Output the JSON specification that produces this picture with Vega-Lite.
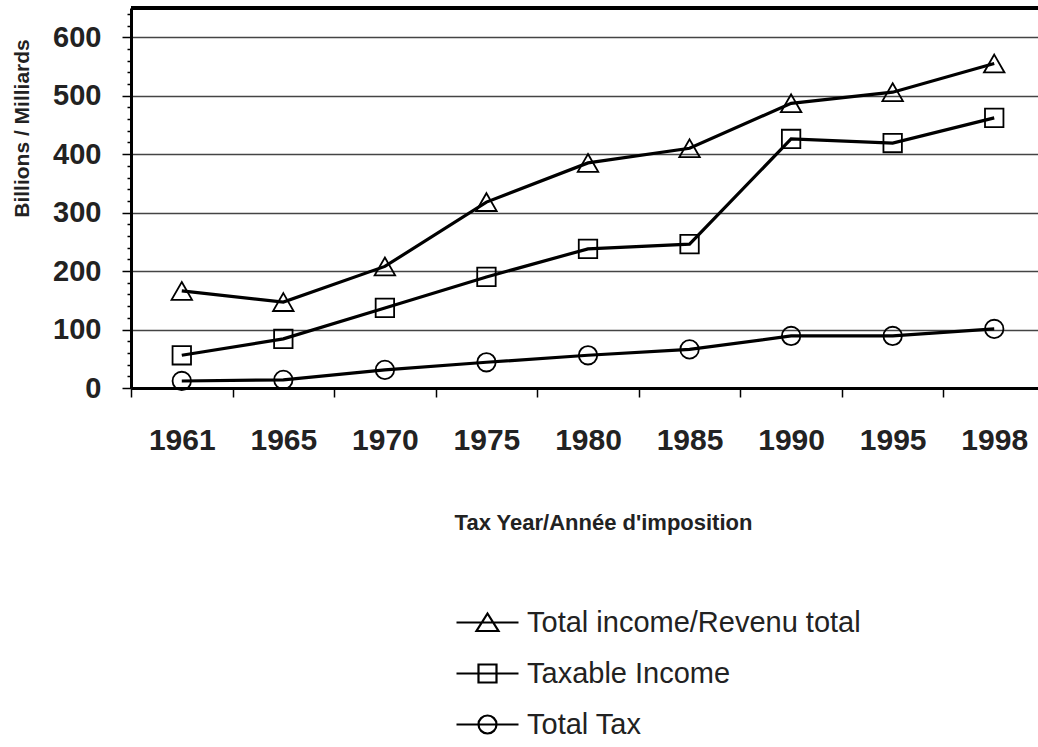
{
  "$schema": "https://vega.github.io/schema/vega-lite/v6.json",
  "width": 907,
  "height": 380,
  "autosize": "none",
  "padding": {"left": 131, "top": 8, "right": 0, "bottom": 359},
  "background": "white",
  "config": {
    "view": {"stroke": null},
    "font": "Liberation Sans",
    "axis": {"labelColor": "#222", "titleColor": "#222"},
    "legend": {"labelColor": "#222"}
  },
  "data": {
    "values": [
      {"year": "1961", "series": "Total income/Revenu total", "value": 166},
      {"year": "1965", "series": "Total income/Revenu total", "value": 147},
      {"year": "1970", "series": "Total income/Revenu total", "value": 208},
      {"year": "1975", "series": "Total income/Revenu total", "value": 318},
      {"year": "1980", "series": "Total income/Revenu total", "value": 385},
      {"year": "1985", "series": "Total income/Revenu total", "value": 410},
      {"year": "1990", "series": "Total income/Revenu total", "value": 487},
      {"year": "1995", "series": "Total income/Revenu total", "value": 506},
      {"year": "1998", "series": "Total income/Revenu total", "value": 555},
      {"year": "1961", "series": "Taxable Income", "value": 56},
      {"year": "1965", "series": "Taxable Income", "value": 84},
      {"year": "1970", "series": "Taxable Income", "value": 137},
      {"year": "1975", "series": "Taxable Income", "value": 190},
      {"year": "1980", "series": "Taxable Income", "value": 238},
      {"year": "1985", "series": "Taxable Income", "value": 246},
      {"year": "1990", "series": "Taxable Income", "value": 426},
      {"year": "1995", "series": "Taxable Income", "value": 419},
      {"year": "1998", "series": "Taxable Income", "value": 462},
      {"year": "1961", "series": "Total Tax", "value": 12},
      {"year": "1965", "series": "Total Tax", "value": 14},
      {"year": "1970", "series": "Total Tax", "value": 31},
      {"year": "1975", "series": "Total Tax", "value": 44},
      {"year": "1980", "series": "Total Tax", "value": 56},
      {"year": "1985", "series": "Total Tax", "value": 66},
      {"year": "1990", "series": "Total Tax", "value": 89},
      {"year": "1995", "series": "Total Tax", "value": 89},
      {"year": "1998", "series": "Total Tax", "value": 101}
    ]
  },
  "resolve": {"scale": {"shape": "independent"}},
  "layer": [
    {
      "mark": {"type": "rule", "color": "black", "strokeWidth": 3},
      "encoding": {"y": {"datum": 650, "type": "quantitative"}}
    },
    {
      "mark": {"type": "line", "color": "black", "strokeWidth": 3.2},
      "encoding": {
        "x": {
          "field": "year",
          "type": "ordinal",
          "scale": {"type": "band", "range": [0, 914], "paddingInner": 0, "paddingOuter": 0},
          "axis": {
            "tickBand": "extent",
            "tickSize": 9,
            "tickColor": "black",
            "tickWidth": 1.5,
            "domainColor": "black",
            "domainWidth": 3,
            "labelFontSize": 30,
            "labelFontWeight": "bold",
            "labelAngle": 0,
            "labelBaseline": "alphabetic",
            "labelPadding": 52,
            "labelOverlap": false,
            "grid": false,
            "title": "Tax Year/Année d'imposition",
            "titleFontSize": 22,
            "titleFontWeight": "bold",
            "titleX": 472,
            "titleY": 141,
            "titleBaseline": "alphabetic",
            "titleAlign": "center"
          }
        },
        "y": {
          "field": "value",
          "type": "quantitative",
          "scale": {"domain": [0, 650], "nice": false},
          "axis": {
            "values": [0, 20, 40, 60, 80, 100, 120, 140, 160, 180, 200, 220, 240, 260, 280, 300, 320, 340, 360, 380, 400, 420, 440, 460, 480, 500, 520, 540, 560, 580, 600, 620, 640],
            "tickCount": 100,
            "labelOverlap": false,
            "labelExpr": "datum.value % 100 === 0 ? datum.label : ''",
            "tickSize": {"condition": {"test": "datum.value % 100 === 0", "value": 9}, "value": 4},
            "tickColor": "black",
            "tickWidth": 1.5,
            "grid": true,
            "gridColor": "#444",
            "gridWidth": 1.5,
            "gridOpacity": {"condition": {"test": "datum.value % 100 === 0 && datum.value > 0", "value": 1}, "value": 0},
            "domainColor": "black",
            "domainWidth": 3,
            "labelFontSize": 29,
            "labelFontWeight": "bold",
            "labelPadding": 21,
            "labelBaseline": "middle",
            "title": "Billions / Milliards",
            "titleFontSize": 21,
            "titleFontWeight": "bold",
            "titleAngle": 270,
            "titleX": -109,
            "titleY": 120,
            "titleAlign": "center",
            "titleBaseline": "middle"
          }
        },
        "detail": {"field": "series"}
      }
    },
    {
      "mark": {"type": "point", "filled": false, "color": "black", "strokeWidth": 1.8, "size": 420, "opacity": 1},
      "encoding": {
        "x": {"field": "year", "type": "ordinal"},
        "y": {"field": "value", "type": "quantitative"},
        "shape": {
          "field": "series",
          "type": "nominal",
          "scale": {
            "domain": ["Total income/Revenu total", "Taxable Income", "Total Tax"],
            "range": ["M0,-0.87L1,0.87L-1,0.87Z", "M-0.9,-0.9H0.9V0.9H-0.9Z", "M-0.9,0A0.9,0.9,0,1,0,0.9,0A0.9,0.9,0,1,0,-0.9,0Z"]
          },
          "legend": null
        }
      }
    },
    {
      "mark": {"type": "point", "filled": false, "color": "black", "strokeWidth": 2.2, "size": 0, "opacity": 1},
      "encoding": {
        "x": {"field": "year", "type": "ordinal"},
        "y": {"field": "value", "type": "quantitative"},
        "shape": {
          "field": "series",
          "type": "nominal",
          "scale": {
            "domain": ["Total income/Revenu total", "Taxable Income", "Total Tax"],
            "range": ["M-3.1,0H3.1M0,-0.9L1.1,0.85H-1.1Z", "M-3.1,0H3.1M-0.9,-0.9H0.9V0.9H-0.9Z", "M-3.1,0H3.1M-0.9,0A0.9,0.9,0,1,0,0.9,0A0.9,0.9,0,1,0,-0.9,0Z"]
          },
          "legend": {
            "orient": "none",
            "legendX": 342,
            "legendY": 600,
            "title": null,
            "padding": 0,
            "labelFontSize": 29,
            "labelFont": "Liberation Sans",
            "labelLimit": 0,
            "symbolSize": 400,
            "symbolStrokeWidth": 2.2,
            "symbolStrokeColor": "black",
            "symbolFillColor": "transparent",
            "labelOffset": 25,
            "rowPadding": 21
          }
        }
      }
    }
  ]
}
